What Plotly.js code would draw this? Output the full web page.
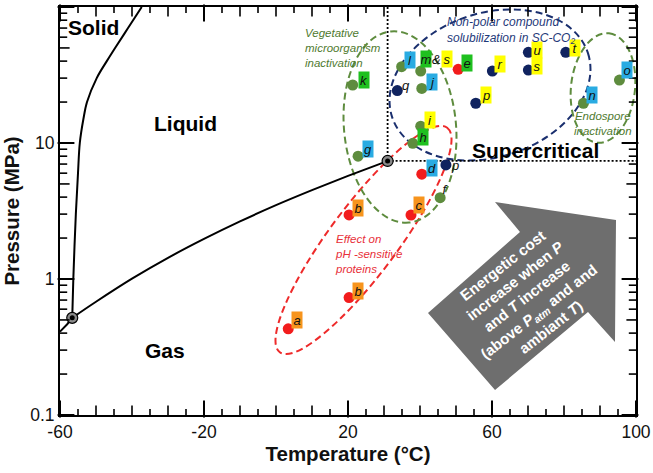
<!DOCTYPE html>
<html><head><meta charset="utf-8">
<script src="https://cdn.plot.ly/plotly-3.0.1.min.js"></script>
<style>html,body{margin:0;padding:0;background:#fff}</style>
</head><body>
<div id="chart" style="width:653px;height:473px"></div>
<script>
// ---- phase boundary curves (CO2) ----
const sublimT = [-60, -58, -56.6];
const sublimP = [0.41, 0.465, 0.518];
const vaporT = [-56.6, -50, -40, -30, -20, -10, 0, 10, 20, 30, 31.0];
const vaporP = [0.518, 0.68, 1.005, 1.43, 1.97, 2.65, 3.49, 4.5, 5.73, 7.21, 7.38];
const meltT = [-56.6, -56.3, -55.6, -55.0, -54.5, -53.5, -52.5, -49.8, -47.0, -44.7, -41.1, -37.3];
const meltP = [0.518, 1, 3, 6, 10, 15, 20, 30, 40, 50, 70, 100];
const tripleT = [-56.6], tripleP = [0.518];
const critT = [31.0], critP = [7.38];
const critVertT = [31.0, 31.0], critVertP = [7.38, 100];
const critHorT = [31.0, 100], critHorP = [7.38, 7.38];

// ---- literature points ----
const redT = [3.4, 20.3, 20.3, 37.5, 40.5, 50.6];
const redP = [0.43, 0.73, 2.96, 2.95, 5.9, 34.8];
const redLab = ['a', 'b', 'b', 'c', 'd', 'e'];

const greenT = [21.3, 34.9, 40.2, 40.5, 40.2, 38.0, 22.8, 45.6, 85.4, 95.4];
const greenP = [26.7, 36.4, 33.8, 25.2, 13.3, 9.95, 8.0, 3.96, 19.6, 29.0];
const greenLab = ['k', 'l', 'm', 'j', 'i', 'h', 'g', 'f', 'n', 'o'];

const navyT = [33.7, 55.5, 60.1, 70.1, 70.1, 80.5, 47.2];
const navyP = [24.3, 19.6, 33.8, 46.4, 34.4, 46.4, 6.9];
const navyLab = ['q', 'p', 'r', 'u', 's', 't', 'p'];

const xTicks = [-60, -20, 20, 60, 100];
const xTickText = ['-60', '-20', '20', '60', '100'];
const yTicks = [0.1, 1, 10, 100];
const yTickText = ['0.1', '1', '10', '100'];

// ---- styles ----
const BOX = {o: '#f7941d', b: '#29abe2', g: '#1fc01f', y: '#ffff00', '': 'rgba(0,0,0,0)'};
const redBox = ['o', 'o', 'o', 'o', 'b', 'g'];
const greenBox = ['g', 'b', 'g', 'b', 'y', 'g', 'b', '', 'b', 'b'];
const navyBox = ['', 'y', 'y', 'y', 'y', 'y', ''];
const redShift = [[9, 9], [9, 7], [9, 7], [8, 10], [10, 6], [9, 6]];
const greenShift = [[11, 5], [8, 7], [5, 12], [10, 6], [9, 6], [10, 6], [10, 7], [5, 9], [9, 8], [8, 10]];
const navyShift = [[9, 6], [10, 8], [8, 7], [9, 2], [9, 4], [9, 4], [9, 0]];

const RED = '#f21c1c', GREEN = '#5e8c3e', NAVY = '#10235f';
const FONT = 'Arial, "Liberation Sans", Helvetica, sans-serif';

// plot area geometry (pixels) for decorations
const L = 60, T0 = 7, PW = 576, PH = 408;
const XMIN = -60, XMAX = 100, LOGMIN = -1, LOGMAX = 2;
const pxPerX = PW / (XMAX - XMIN), pxPerDec = PH / (LOGMAX - LOGMIN);
const px = x => (x - L) / PW;
const py = y => 1 - (y - T0) / PH;

function ellipsePath(cx, cy, a, b, deg) {
  const th = deg * Math.PI / 180, k = 0.5523;
  const u = [Math.cos(th), Math.sin(th)], v = [-Math.sin(th), Math.cos(th)];
  const P = (ca, cb) => {
    const X = cx + ca * a * u[0] + cb * b * v[0];
    const Y = cy + ca * a * u[1] + cb * b * v[1];
    return px(X).toFixed(5) + ',' + py(Y).toFixed(5);
  };
  return 'M' + P(1, 0) +
    ' C' + P(1, k) + ' ' + P(k, 1) + ' ' + P(0, 1) +
    ' C' + P(-k, 1) + ' ' + P(-1, k) + ' ' + P(-1, 0) +
    ' C' + P(-1, -k) + ' ' + P(-k, -1) + ' ' + P(0, -1) +
    ' C' + P(k, -1) + ' ' + P(1, -k) + ' ' + P(1, 0) + ' Z';
}
function polyPath(pts) {
  return pts.map((p, i) => (i ? 'L' : 'M') + px(p[0]).toFixed(5) + ',' + py(p[1]).toFixed(5)).join(' ') + ' Z';
}

// ---- inside tick marks drawn as line-shaped markers (one trace per tick length) ----
const tickGroups = {};
function addTick(len, dir, x, y) {
  const key = dir + len;
  if (!tickGroups[key]) tickGroups[key] = {len: len, dir: dir, x: [], y: []};
  tickGroups[key].x.push(x); tickGroups[key].y.push(y);
}
const yBot = Math.pow(10, LOGMIN), yTop = Math.pow(10, LOGMAX);
for (let t = XMIN; t <= XMAX; t += 5) {
  const major = xTicks.indexOf(t) >= 0;
  const len = major ? 12 : (t % 10 === 0 ? 8 : 5);
  const f = Math.pow(10, (len / 2) / pxPerDec);
  addTick(len, 'ns', t, yBot * f);
  addTick(len, 'ns', t, yTop / f);
}
for (let d = LOGMIN; d < LOGMAX; d++) {
  for (let m = 1; m <= 10; m++) {
    if (m === 10 && d + 1 < LOGMAX) continue;
    const v = Math.pow(10, d) * m;
    const major = (m === 1 || m === 10);
    const len = major ? 12 : (m === 5 ? 8 : 6);
    const dx = (len / 2) / pxPerX;
    addTick(len, 'ew', XMIN + dx, v);
    addTick(len, 'ew', XMAX - dx, v);
  }
}

const traces = [
  {x: sublimT, y: sublimP, mode: 'lines', line: {color: '#000', width: 2}},
  {x: vaporT, y: vaporP, mode: 'lines', line: {color: '#000', width: 2, shape: 'spline'}},
  {x: meltT, y: meltP, mode: 'lines', line: {color: '#000', width: 2, shape: 'spline'}},
  {x: critVertT, y: critVertP, mode: 'lines', line: {color: '#000', width: 1.8, dash: '2px,2px'}},
  {x: critHorT, y: critHorP, mode: 'lines', line: {color: '#000', width: 1.8, dash: '2px,2px'}},
  {x: tripleT.concat(critT), y: tripleP.concat(critP), mode: 'markers',
   marker: {size: 11, color: '#8a8a8a', line: {color: '#000', width: 1.2}}},
  {x: tripleT.concat(critT), y: tripleP.concat(critP), mode: 'markers',
   marker: {size: 5, color: '#000'}},
  {x: redT, y: redP, mode: 'markers', marker: {size: 11, color: RED}},
  {x: greenT, y: greenP, mode: 'markers', marker: {size: 11, color: GREEN}},
  {x: navyT, y: navyP, mode: 'markers', marker: {size: 11, color: NAVY}}
];
Object.keys(tickGroups).forEach(k => {
  const g = tickGroups[k];
  traces.push({x: g.x, y: g.y, mode: 'markers', cliponaxis: false, hoverinfo: 'skip',
    marker: {symbol: 'line-' + g.dir + '-open', size: g.len, color: '#000',
             line: {color: '#000', width: g.len >= 12 ? 2 : 1.6}}});
});

const annotations = [];
function addLabels(Ts, Ps, labs, boxes, shifts) {
  labs.forEach((lab, i) => {
    annotations.push({
      x: Ts[i], y: Math.log10(Ps[i]), xref: 'x', yref: 'y', showarrow: false,
      text: '<i>' + lab + '</i>', font: {family: FONT, size: 13, color: '#111'},
      bgcolor: BOX[boxes[i]], borderpad: 0, width: 10, height: 16,
      xanchor: 'center', yanchor: 'middle', xshift: shifts[i][0], yshift: shifts[i][1]
    });
  });
}
addLabels(redT, redP, redLab, redBox, redShift);
addLabels(greenT, greenP, greenLab, greenBox, greenShift);
addLabels(navyT, navyP, navyLab, navyBox, navyShift);
annotations.push({x: greenT[2], y: Math.log10(greenP[2]), showarrow: false, text: '<i>&</i>',
  font: {family: FONT, size: 13, color: '#111'}, xshift: 16, yshift: 12, xanchor: 'center', yanchor: 'middle'});
annotations.push({x: greenT[2], y: Math.log10(greenP[2]), showarrow: false, text: '<i>s</i>',
  font: {family: FONT, size: 13, color: '#111'}, bgcolor: BOX.y, borderpad: 0, width: 10, height: 16,
  xshift: 26, yshift: 12, xanchor: 'center', yanchor: 'middle'});

function txt(x, y, text, size, color, opts) {
  annotations.push(Object.assign({x: px(x), y: py(y), xref: 'paper', yref: 'paper', showarrow: false,
    text: text, font: {family: FONT, size: size, color: color}, xanchor: 'center', yanchor: 'middle'}, opts || {}));
}
txt(93, 27, '<b>Solid</b>', 21, '#000');
txt(185, 123, '<b>Liquid</b>', 21, '#000');
txt(165, 350, '<b>Gas</b>', 21, '#000');
txt(535, 150, '<b>Supercritical</b>', 21, '#000');
txt(303, 48.5, '<i>Vegetative<br>microorganism<br>inactivation</i>', 11.5, '#4f7a2f', {xanchor: 'left', align: 'left'});
txt(445, 30.5, '<i>Non-polar compound<br>solubilization in SC-CO<sub>2</sub></i>', 12, '#1f3a7a', {xanchor: 'left', align: 'left'});
txt(603, 123, '<i>Endospore<br>inactivation</i>', 11.5, '#4f7a2f', {align: 'center'});
txt(333, 254, '<i>Effect on<br>pH -sensitive<br>proteins</i>', 11.5, '#e8303a', {xanchor: 'left', align: 'left'});
txt(526, 296, '<b>Energetic cost<br>increase when <i>P</i><br>and <i>T</i> increase<br>(above <i>P</i><sub><i>atm</i></sub> and and<br>ambiant <i>T</i>)</b>',
  15, '#fff', {textangle: -38, align: 'center'});

const shapes = [
  {type: 'path', xref: 'paper', yref: 'paper', layer: 'below',
   path: polyPath([[495, 202], [616, 220], [615, 342], [588, 312], [495, 390], [428, 313], [520, 232]]),
   fillcolor: '#6e6e6e', line: {width: 0}},
  {type: 'path', xref: 'paper', yref: 'paper', layer: 'below', path: ellipsePath(363.5, 240, 140, 34, -53.3),
   line: {color: '#ee2a2a', width: 2, dash: '7px,4px'}},
  {type: 'path', xref: 'paper', yref: 'paper', layer: 'below', path: ellipsePath(400, 127, 96, 56, 84.6),
   line: {color: '#5e8c3e', width: 2, dash: '7px,4px'}},
  {type: 'path', xref: 'paper', yref: 'paper', layer: 'below', path: ellipsePath(490, 85, 103, 72, -18),
   line: {color: '#1a2f6e', width: 2, dash: '7px,4px'}},
  {type: 'path', xref: 'paper', yref: 'paper', layer: 'below', path: ellipsePath(603, 88, 55, 32, -83.7),
   line: {color: '#5e8c3e', width: 2, dash: '7px,4px'}}
];

const layout = {
  width: 653, height: 473, showlegend: false,
  margin: {l: L, r: 653 - L - PW, t: T0, b: 473 - T0 - PH},
  paper_bgcolor: '#fff', plot_bgcolor: 'rgba(0,0,0,0)',
  font: {family: FONT, color: '#111'},
  xaxis: {range: [XMIN, XMAX], tickmode: 'array', tickvals: xTicks, ticktext: xTickText,
    ticks: 'inside', ticklen: 12, tickwidth: 2, tickcolor: '#000',
    showline: true, linewidth: 2, linecolor: 'black', mirror: 'ticks',
    showgrid: false, zeroline: false, tickfont: {size: 17.5, color: '#111'},
    title: {text: '<b>Temperature (°C)</b>', font: {size: 20.5, color: '#111'}, standoff: 6}},
  yaxis: {type: 'log', range: [LOGMIN, LOGMAX], tickmode: 'array', tickvals: yTicks, ticktext: yTickText,
    ticks: 'inside', ticklen: 12, tickwidth: 2, tickcolor: '#000',
    showline: true, linewidth: 2, linecolor: 'black', mirror: 'ticks',
    showgrid: false, zeroline: false, tickfont: {size: 17.5, color: '#111'},
    title: {text: '<b>Pressure (MPa)</b>', font: {size: 20.5, color: '#111'}, standoff: 8}},
  shapes: shapes,
  annotations: annotations
};

Plotly.newPlot('chart', traces, layout, {staticPlot: true, displayModeBar: false});
</script>
</body></html>
